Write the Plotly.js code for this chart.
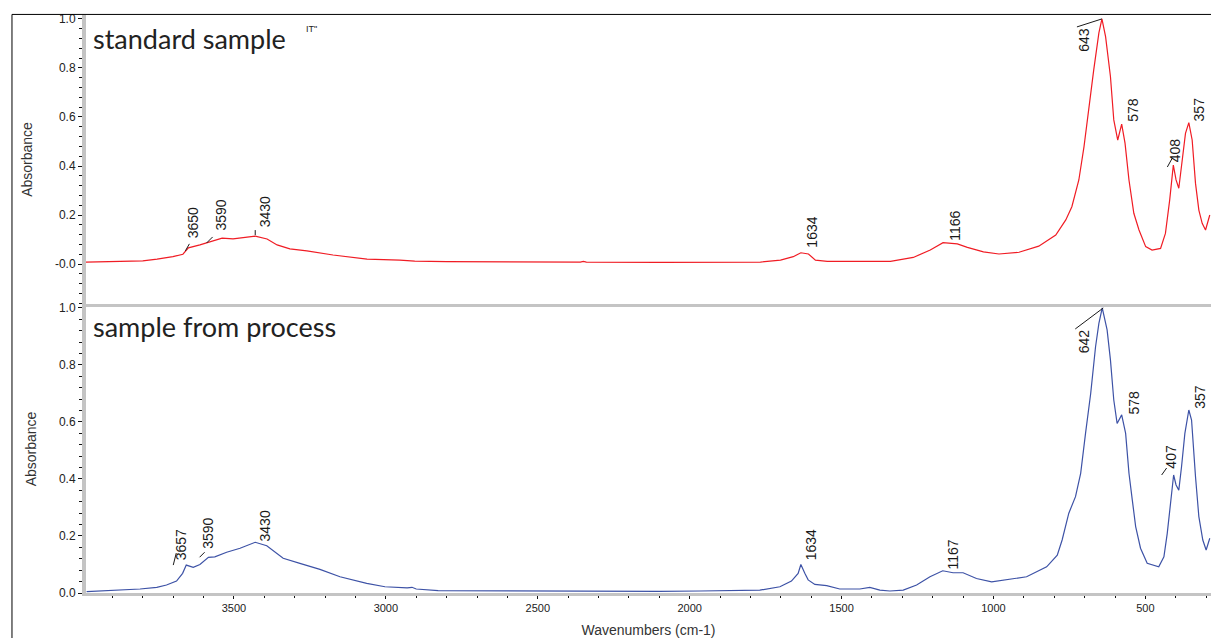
<!DOCTYPE html>
<html>
<head>
<meta charset="utf-8">
<script src="https://cdn.plot.ly/plotly-3.0.1.min.js"></script>
<style>
  html, body { margin: 0; padding: 0; background: #ffffff; }
  #chart { width: 1211px; height: 638px; }
</style>
</head>
<body>
<div id="chart"></div>
<script>
// ---------- data ----------
const stdWavenumbers = [3987, 3900, 3800, 3753, 3701, 3668, 3660, 3650, 3612, 3590, 3579, 3539, 3503, 3457, 3430, 3391, 3358, 3316, 3260, 3174, 3062, 2954, 2920, 2914, 2905, 2800, 2600, 2360, 2350, 2340, 2100, 1965, 1767, 1701, 1659, 1634, 1609, 1586, 1547, 1339, 1264, 1208, 1166, 1119, 1086, 1033, 982, 916, 851, 795, 762, 742, 719, 702, 686, 670, 653, 643, 631, 615, 604, 591, 578, 567, 554, 538, 521, 499, 478, 450, 434, 420, 408, 399, 390, 379, 368, 357, 346, 335, 324, 313, 302, 288];
const stdAbsorbance = [0.008, 0.009, 0.013, 0.020, 0.030, 0.040, 0.050, 0.066, 0.078, 0.086, 0.090, 0.106, 0.103, 0.111, 0.114, 0.102, 0.078, 0.062, 0.054, 0.037, 0.020, 0.016, 0.013, 0.015, 0.012, 0.010, 0.008, 0.008, 0.011, 0.008, 0.007, 0.007, 0.008, 0.016, 0.030, 0.046, 0.041, 0.016, 0.011, 0.011, 0.027, 0.057, 0.087, 0.082, 0.068, 0.050, 0.041, 0.048, 0.073, 0.118, 0.180, 0.234, 0.343, 0.479, 0.642, 0.792, 0.943, 1.000, 0.928, 0.765, 0.588, 0.506, 0.571, 0.493, 0.343, 0.207, 0.139, 0.071, 0.057, 0.064, 0.125, 0.261, 0.404, 0.343, 0.309, 0.424, 0.533, 0.577, 0.506, 0.329, 0.220, 0.166, 0.139, 0.200];

const procWavenumbers = [3985, 3919, 3809, 3754, 3722, 3689, 3669, 3657, 3634, 3612, 3590, 3584, 3563, 3524, 3480, 3430, 3392, 3338, 3283, 3217, 3151, 3063, 3003, 2954, 2930, 2914, 2900, 2828, 2600, 2350, 2100, 1966, 1769, 1703, 1665, 1643, 1634, 1621, 1610, 1588, 1549, 1506, 1440, 1407, 1374, 1341, 1297, 1253, 1209, 1167, 1133, 1100, 1056, 1006, 957, 891, 825, 790, 774, 752, 730, 713, 697, 680, 664, 653, 642, 626, 615, 604, 593, 578, 565, 554, 543, 532, 516, 494, 456, 439, 428, 417, 407, 399, 390, 381, 370, 357, 348, 335, 324, 311, 300, 288];
const procAbsorbance = [0.005, 0.009, 0.014, 0.020, 0.028, 0.042, 0.069, 0.098, 0.090, 0.100, 0.122, 0.125, 0.127, 0.143, 0.157, 0.178, 0.166, 0.122, 0.104, 0.083, 0.057, 0.034, 0.022, 0.020, 0.018, 0.020, 0.014, 0.008, 0.007, 0.007, 0.006, 0.007, 0.010, 0.022, 0.042, 0.069, 0.100, 0.069, 0.046, 0.030, 0.026, 0.014, 0.014, 0.020, 0.010, 0.007, 0.010, 0.028, 0.057, 0.078, 0.071, 0.071, 0.051, 0.039, 0.046, 0.057, 0.092, 0.133, 0.186, 0.280, 0.338, 0.420, 0.560, 0.700, 0.864, 0.946, 1.000, 0.923, 0.818, 0.677, 0.595, 0.625, 0.560, 0.420, 0.326, 0.233, 0.157, 0.104, 0.092, 0.127, 0.209, 0.326, 0.414, 0.379, 0.361, 0.443, 0.560, 0.642, 0.607, 0.408, 0.268, 0.186, 0.151, 0.192];

const stdPeaks  = [3650, 3590, 3430, 1634, 1166, 643, 578, 408, 357];
const procPeaks = [3657, 3590, 3430, 1634, 1167, 642, 578, 407, 357];

const xTickVals = [3500, 3000, 2500, 2000, 1500, 1000, 500];
const yTickVals = [0, 0.2, 0.4, 0.6, 0.8, 1.0];
const stdYTickText  = ['-0.0', '0.2', '0.4', '0.6', '0.8', '1.0'];
const procYTickText = ['0.0', '0.2', '0.4', '0.6', '0.8', '1.0'];

const stdTitle  = 'standard sample';
const procTitle = 'sample from process';

// ---------- label placement (pixel offsets from each peak point) ----------
const stdLabelShift  = [[4, 25], [14, 28], [10, 24], [11, 21], [12, 17], [-18, -21], [11, 14], [2, 15], [10, 13]];
const procLabelShift = [[-5, 20], [2, 25], [10, 16], [11, 20], [10, 16], [-18, -33], [12, 12], [-3, 18], [11, 13]];
// leader lines: [peak index, x0, y0, x1, y1] in pixels, y upward
const stdLeaders  = [[0, -3, -3, 1, 4], [1, 0, 0, 6, 6], [2, 0, 1, 0, 6], [5, -25, -8, 0, 0], [7, -6, -2, -1, 7]];
const procLeaders = [[0, -13, 0, -10, 12], [1, -7, 1, -2, 6], [5, -27, -21, 1, 0], [7, -12, 0, -7, 7]];

function interp(xs, ys, x) {
  for (let i = 0; i < xs.length - 1; i++) {
    const a = xs[i], b = xs[i + 1];
    if ((x <= a && x >= b) || (x >= a && x <= b)) {
      const t = (x - a) / (b - a);
      return ys[i] + t * (ys[i + 1] - ys[i]);
    }
  }
  return ys[ys.length - 1];
}

const labelFont = { family: 'Liberation Sans, Arial, sans-serif', size: 14, color: '#1a1a1a' };
const annotations = [];
const shapes = [];

function addPeakLabels(peaks, xs, ys, shifts, leaders, xref, yref) {
  peaks.forEach((p, i) => {
    annotations.push({
      x: p, y: interp(xs, ys, p), xref: xref, yref: yref,
      text: String(p), showarrow: false, textangle: -90,
      xanchor: 'center', yanchor: 'middle',
      xshift: shifts[i][0], yshift: shifts[i][1],
      font: labelFont
    });
  });
  leaders.forEach(l => {
    const p = peaks[l[0]];
    shapes.push({
      type: 'line', xref: xref, yref: yref,
      xsizemode: 'pixel', ysizemode: 'pixel',
      xanchor: p, yanchor: interp(xs, ys, p),
      x0: l[1], y0: l[2], x1: l[3], y1: l[4],
      line: { color: '#1a1a1a', width: 1 }
    });
  });
}

addPeakLabels(stdPeaks, stdWavenumbers, stdAbsorbance, stdLabelShift, stdLeaders, 'x2', 'y2');
addPeakLabels(procPeaks, procWavenumbers, procAbsorbance, procLabelShift, procLeaders, 'x', 'y');

// frame lines
shapes.push({ type: 'line', xref: 'paper', yref: 'paper', x0: -0.0658, x1: 1.0, y0: 1.001, y1: 1.001, line: { color: '#000', width: 1 } });
shapes.push({ type: 'line', xref: 'paper', yref: 'paper', x0: -0.0658, x1: -0.0658, y0: 1.001, y1: -0.09, line: { color: '#000', width: 1 } });

// panel titles
const titleFont = { family: 'Lato, Open Sans, sans-serif', size: 27, color: '#222222' };
annotations.push({ xref: 'paper', yref: 'paper', x: 0.0045, y: 0.9593, xanchor: 'left', yanchor: 'middle', showarrow: false, text: stdTitle, font: titleFont });
annotations.push({ xref: 'paper', yref: 'paper', x: 0.0045, y: 0.4611, xanchor: 'left', yanchor: 'middle', showarrow: false, text: procTitle, font: titleFont });
annotations.push({ xref: 'paper', yref: 'paper', x: 0.2, y: 0.9758, xanchor: 'center', yanchor: 'middle', showarrow: false, text: 'IT"', font: { family: 'Liberation Sans, Arial, sans-serif', size: 9, color: '#222' } });

const tickFont = { family: 'Liberation Sans, Arial, sans-serif', size: 11, color: '#222' };
const yTickFont = { family: 'Liberation Sans, Arial, sans-serif', size: 12, color: '#222' };
const axisTitleFont = { family: 'Liberation Sans, Arial, sans-serif', size: 14, color: '#333' };
const grayLine = '#c4c4c4';

const yCommon = {
  showgrid: false, zeroline: false,
  showline: true, linecolor: grayLine, linewidth: 4,
  ticks: 'outside', ticklen: 4, tickwidth: 1, tickcolor: '#111',
  tickmode: 'array', tickvals: yTickVals, tickfont: yTickFont,
  minor: { dtick: 0.04, tick0: 0, ticks: 'outside', ticklen: 3, tickwidth: 1, tickcolor: '#111', showgrid: false },
  title: { text: 'Absorbance', font: axisTitleFont, standoff: 20 }
};

const layout = {
  width: 1211, height: 638,
  margin: { l: 86, r: 0, t: 15, b: 45 },
  paper_bgcolor: '#ffffff', plot_bgcolor: '#ffffff',
  showlegend: false,
  xaxis: {
    anchor: 'y', range: [3987, 284],
    showgrid: false, zeroline: false,
    showline: true, linecolor: grayLine, linewidth: 3,
    ticks: 'outside', ticklen: 3, tickwidth: 1, tickcolor: '#111',
    tickmode: 'array', tickvals: xTickVals, tickfont: tickFont,
    minor: { dtick: 100, tick0: 0, ticks: 'outside', ticklen: 2, tickwidth: 1, tickcolor: '#111', showgrid: false },
    title: { text: 'Wavenumbers (cm-1)', font: axisTitleFont }
  },
  xaxis2: {
    anchor: 'y2', matches: 'x', range: [3987, 284],
    showgrid: false, zeroline: false, showticklabels: false, ticks: '',
    showline: true, linecolor: grayLine, linewidth: 3
  },
  yaxis: Object.assign({}, yCommon, { domain: [0, 0.4983], range: [0, 1.0105], ticktext: procYTickText }),
  yaxis2: Object.assign({}, yCommon, { domain: [0.5, 1], range: [-0.163, 1.016], ticktext: stdYTickText }),
  annotations: annotations,
  shapes: shapes
};

const traces = [
  { x: stdWavenumbers, y: stdAbsorbance, xaxis: 'x2', yaxis: 'y2', type: 'scatter', mode: 'lines', name: stdTitle, line: { color: '#f01c24', width: 1.2 }, hoverinfo: 'x+y' },
  { x: procWavenumbers, y: procAbsorbance, xaxis: 'x', yaxis: 'y', type: 'scatter', mode: 'lines', name: procTitle, line: { color: '#3d52a6', width: 1.2 }, hoverinfo: 'x+y' }
];

Plotly.newPlot('chart', traces, layout, { displayModeBar: false, staticPlot: true });
</script>
</body>
</html>
